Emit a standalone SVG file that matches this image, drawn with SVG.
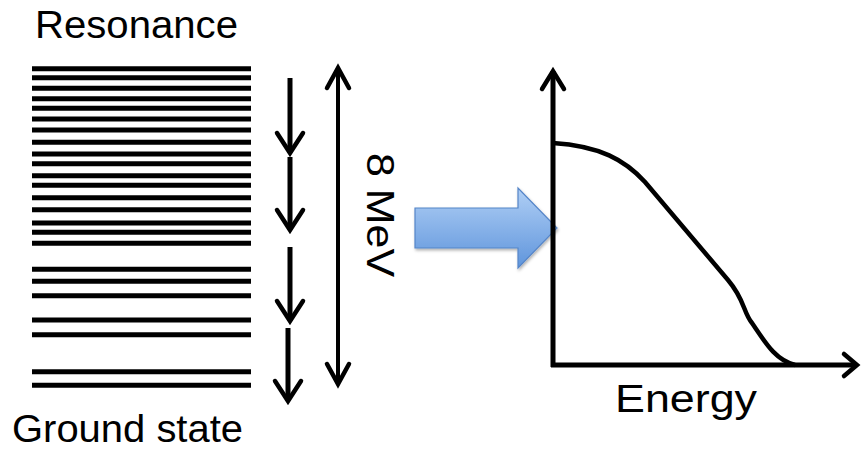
<svg xmlns="http://www.w3.org/2000/svg" width="862" height="452" viewBox="0 0 862 452">
  <style>
    .lvl { stroke: #000; stroke-width: 5; }
    .ln { stroke: #000; fill: none; stroke-linecap: butt; }
    .head { stroke: #000; fill: none; stroke-width: 4.5; stroke-linejoin: miter; stroke-linecap: round; }
    .lbl { font-family: "Liberation Sans", Arial, sans-serif; font-size: 38px; fill: #000; }
  </style>
  <defs>
    <linearGradient id="blue" x1="0" y1="0" x2="0" y2="1">
      <stop offset="0" stop-color="#b0cff5"/>
      <stop offset="1" stop-color="#5f95dc"/>
    </linearGradient>
    <filter id="shadow" x="-10%" y="-10%" width="130%" height="140%">
      <feDropShadow dx="1" dy="2" stdDeviation="1.5" flood-color="#000" flood-opacity="0.3"/>
    </filter>
  </defs>
  <rect width="862" height="452" fill="#fff"/>

  <g id="levels">
    <line class="lvl" x1="32" x2="251" y1="68.7" y2="68.7"/>
    <line class="lvl" x1="32" x2="251" y1="77.7" y2="77.7"/>
    <line class="lvl" x1="32" x2="251" y1="88.3" y2="88.3"/>
    <line class="lvl" x1="32" x2="251" y1="98.7" y2="98.7"/>
    <line class="lvl" x1="32" x2="251" y1="108.3" y2="108.3"/>
    <line class="lvl" x1="32" x2="251" y1="119" y2="119"/>
    <line class="lvl" x1="32" x2="251" y1="130" y2="130"/>
    <line class="lvl" x1="32" x2="251" y1="142.3" y2="142.3"/>
    <line class="lvl" x1="32" x2="251" y1="154" y2="154"/>
    <line class="lvl" x1="32" x2="251" y1="163.7" y2="163.7"/>
    <line class="lvl" x1="32" x2="251" y1="175.7" y2="175.7"/>
    <line class="lvl" x1="32" x2="251" y1="185.3" y2="185.3"/>
    <line class="lvl" x1="32" x2="251" y1="197.7" y2="197.7"/>
    <line class="lvl" x1="32" x2="251" y1="209.7" y2="209.7"/>
    <line class="lvl" x1="32" x2="251" y1="223" y2="223"/>
    <line class="lvl" x1="32" x2="251" y1="232.3" y2="232.3"/>
    <line class="lvl" x1="32" x2="251" y1="243.3" y2="243.3"/>
    <line class="lvl" x1="32" x2="251" y1="269.3" y2="269.3"/>
    <line class="lvl" x1="32" x2="251" y1="281.3" y2="281.3"/>
    <line class="lvl" x1="32" x2="251" y1="295.7" y2="295.7"/>
    <line class="lvl" x1="32" x2="251" y1="320" y2="320"/>
    <line class="lvl" x1="32" x2="251" y1="334.7" y2="334.7"/>
    <line class="lvl" x1="32" x2="251" y1="371.7" y2="371.7"/>
    <line class="lvl" x1="32" x2="251" y1="385.3" y2="385.3"/>
  </g>

  <g id="texts">
    <text class="lbl" x="35" y="38" textLength="203" lengthAdjust="spacingAndGlyphs">Resonance</text>
    <text class="lbl" x="12" y="442" textLength="231" lengthAdjust="spacingAndGlyphs">Ground state</text>
    <text class="lbl" x="615" y="412" textLength="142" lengthAdjust="spacingAndGlyphs">Energy</text>
    <text class="lbl" transform="translate(367,153) rotate(90)" x="0" y="0" textLength="124" lengthAdjust="spacingAndGlyphs">8 MeV</text>
  </g>

  <g id="connectors">
    <line class="ln" x1="290" y1="78" x2="290" y2="153" stroke-width="5"/>
    <path class="head" d="M277,133 L290,153 L303,133"/>
    <line class="ln" x1="290" y1="157" x2="290" y2="230" stroke-width="5"/>
    <path class="head" d="M277,210 L290,230 L303,210"/>
    <line class="ln" x1="290" y1="247" x2="290" y2="321" stroke-width="5"/>
    <path class="head" d="M277,301 L290,321 L303,301"/>
    <line class="ln" x1="288" y1="328" x2="288" y2="401" stroke-width="5"/>
    <path class="head" d="M275,381 L288,401 L301,381"/>
    <line class="ln" x1="338" y1="68" x2="338" y2="384" stroke-width="4"/>
    <path class="head" d="M327,88 L338,68 L349,88"/>
    <path class="head" d="M327,364 L338,384 L349,364"/>
  </g>

  <g id="bigarrow">
    <polygon points="415,208 518,208 518,188 557,228 518,268 518,248 415,248" fill="url(#blue)" stroke="#5585c8" stroke-width="1.2" filter="url(#shadow)"/>
  </g>

  <g id="plot">
    <line class="ln" x1="553" y1="367" x2="553" y2="71" stroke-width="5"/>
    <path class="head" d="M542,89 L553,71 L564,89" stroke-width="5"/>
    <line class="ln" x1="551" y1="365" x2="856" y2="365" stroke-width="5"/>
    <path class="head" d="M844,354 L857,365 L844,376" stroke-width="5"/>
    <path class="ln" stroke-width="4.5" stroke-linecap="round" d="M553,143 C600,146 625,160 645,182 L728,280 C745,300 743,312 752,323 C765,342 775,360 795,365"/>
  </g>
</svg>
